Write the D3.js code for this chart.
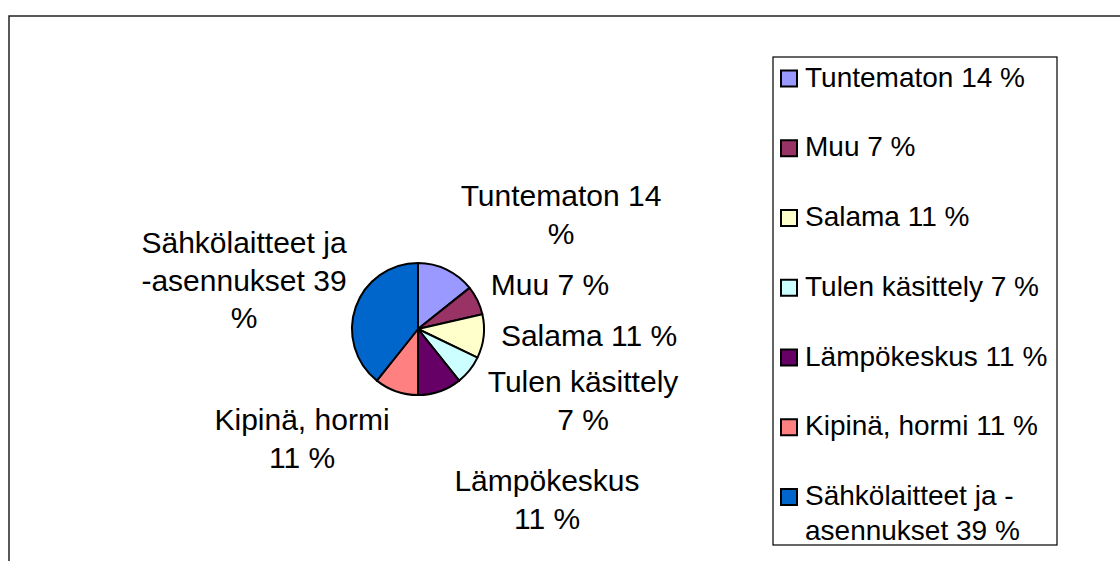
<!DOCTYPE html>
<html>
<head>
<meta charset="utf-8">
<script src="https://cdn.jsdelivr.net/npm/d3@7"></script>
<style>
	body { margin: 0; background: #fff; }
	svg { display: block; font-family: "Liberation Sans", Arial, sans-serif; }
	.label { font-size: 30px; fill: #000; }
	.keyLabel { font-size: 28px; fill: #000; }
</style>
</head>
<body>
<div id="chart"></div>
<script>

// causes of fire, counts (percent shown rounded)
var categories = ["Tuntematon", "Muu", "Salama", "Tulen käsittely", "Lämpökeskus", "Kipinä, hormi", "Sähkölaitteet ja -asennukset"]
var counts = [4, 2, 3, 2, 3, 3, 11]
var colours = ["#9999FF", "#993366", "#FFFFCC", "#CCFFFF", "#660066", "#FF8080", "#0066CC"]

// how Excel wrapped the data labels and legend entries
var labelLines = [
	["Tuntematon 14", "%"],
	["Muu 7 %"],
	["Salama 11 %"],
	["Tulen käsittely", "7 %"],
	["Lämpökeskus", "11 %"],
	["Kipinä, hormi", "11 %"],
	["Sähkölaitteet ja", "-asennukset 39", "%"]
]
var keyLines = [
	["Tuntematon 14 %"],
	["Muu 7 %"],
	["Salama 11 %"],
	["Tulen käsittely 7 %"],
	["Lämpökeskus 11 %"],
	["Kipinä, hormi 11 %"],
	["Sähkölaitteet ja -", "asennukset 39 %"]
]

var width = 1120
var height = 561

var svg = d3.select("#chart").append("svg")
	.attr("width", width)
	.attr("height", height)

// chart area frame (runs off the picture to the right and bottom)
svg.append("rect")
	.attr("x", 9)
	.attr("y", 16)
	.attr("width", 1200)
	.attr("height", 700)
	.attr("fill", "none")
	.attr("stroke", "#222")
	.attr("stroke-width", 1.5)

var cx = 418
var cy = 329
var radius = 66

var data = categories.map(function(d, i) {
	return { name: d, value: counts[i], colour: colours[i], lines: labelLines[i], key: keyLines[i] }
})

var pie = d3.pie()
	.sort(null)
	.value(d => d.value)

var arc = d3.arc()
	.innerRadius(0)
	.outerRadius(radius)

var arcs = pie(data)

var pieG = svg.append("g")
	.attr("transform", "translate(" + cx + "," + cy + ")")

pieG.selectAll("path")
	.data(arcs)
	.enter().append("path")
	.attr("d", arc)
	.attr("fill", d => d.data.colour)
	.attr("stroke", "#000")
	.attr("stroke-width", 2)
	.attr("stroke-linejoin", "round")

// where Excel put each label: centre x and first baseline, relative to pie centre
var labelPos = [[143, -123], [132, -34], [171, 17], [165, 63], [129, 162], [-116, 101], [-174, -76]]
var lineH = 37.5

pieG.selectAll(".label")
	.data(arcs)
	.enter().append("text")
	.attr("class", "label")
	.attr("text-anchor", "middle")
	.each(function(d, i) {
		var p = labelPos[i]
		d3.select(this).selectAll("tspan")
			.data(d.data.lines)
			.enter().append("tspan")
			.attr("x", p[0])
			.attr("y", (l, j) => p[1] + j * lineH)
			.text(l => l)
	})

// legend
var keyG = svg.append("g")

keyG.append("rect")
	.attr("x", 773)
	.attr("y", 57)
	.attr("width", 284)
	.attr("height", 488)
	.attr("fill", "#fff")
	.attr("stroke", "#000")
	.attr("stroke-width", 1.2)

var keyY = d3.scaleLinear()
	.domain([0, categories.length - 1])
	.range([86.5, 505])

var items = keyG.selectAll(".keyItem")
	.data(data)
	.enter().append("g")
	.attr("class", "keyItem")
	.attr("transform", (d, i) => "translate(0," + keyY(i) + ")")

items.append("rect")
	.attr("x", 781)
	.attr("y", -16)
	.attr("width", 16)
	.attr("height", 16)
	.attr("fill", d => d.colour)
	.attr("stroke", "#000")
	.attr("stroke-width", 2)

items.append("text")
	.attr("class", "keyLabel")
	.selectAll("tspan")
	.data(d => d.key)
	.enter().append("tspan")
	.attr("x", 805)
	.attr("y", (l, j) => j * 35)
	.text(l => l)

</script>
</body>
</html>
